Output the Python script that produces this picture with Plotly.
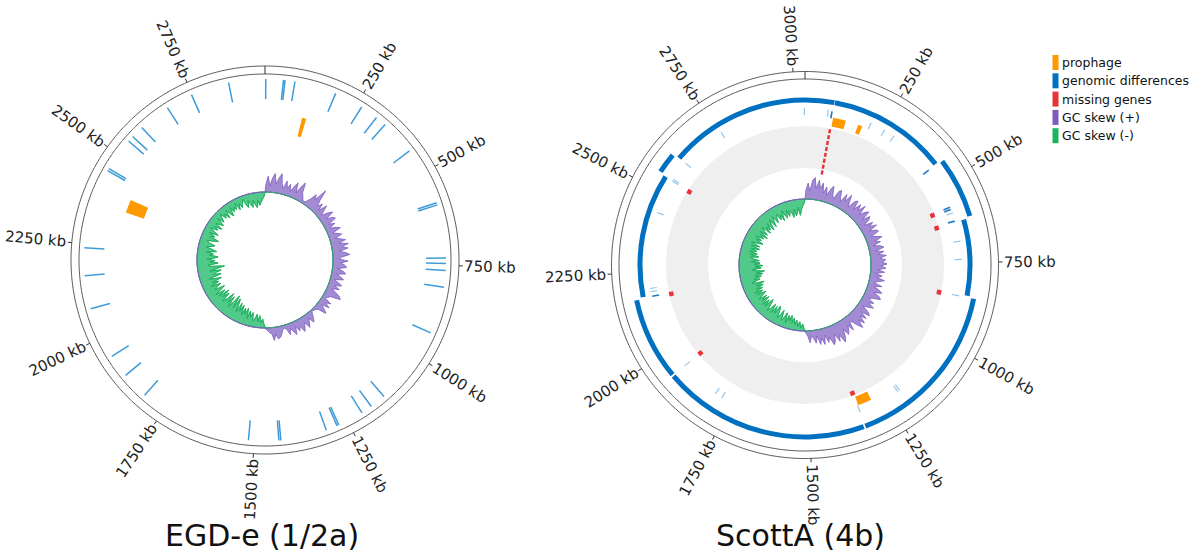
import numpy as np
import plotly.graph_objects as go

W, H = 1189, 551

# ---------------- data (positions in kb) ----------------
EGD_LENGTH_KB = 2944
SCOTT_LENGTH_KB = 3030

EGD_TICKS_KB = [250, 500, 750, 1000, 1250, 1500, 1750, 2000, 2250, 2500, 2750]
SCOTT_TICKS_KB = [250, 500, 750, 1000, 1250, 1500, 1750, 2000, 2250, 2500, 2750, 3000]

# EGD-e: genomic differences (thin lines) and prophages
EGD_DIFF_KB = [2, 48, 52, 78, 188, 264, 311, 340, 433, 585, 591, 731, 745, 763, 807,
               930, 1136, 1178, 1207, 1275, 1280, 1310, 1431, 1436, 1515, 1813, 1884,
               1945, 2080, 2167, 2240, 2450, 2456, 2544, 2560, 2593, 2677, 2748, 2849]
EGD_PROPHAGE_START = [120, 2362]
EGD_PROPHAGE_END = [133, 2405]

# ScottA: genomic-difference ring segments (level 0 = inner lane, 1 = outer lane)
SCOTT_RING_START = [0, 88, 445, 623, 853, 1347, 1939, 2178, 2549, 2612]
SCOTT_RING_END = [86.5, 440, 618, 848, 1342, 1934, 2173, 2545, 2607, 3030]
SCOTT_RING_LEVEL = [0, 0, 1, 0, 1, 1, 1, 0, 1, 0]
SCOTT_DIFF_LIGHT_KB = [3028, 72, 210, 257, 291, 2758, 2613, 2545, 2550, 2437, 2190, 2200,
                       1936, 1785, 1808, 1342, 1203, 1210, 853, 740, 684, 594]
SCOTT_DIFF_DARK_KB = [84, 2175, 620, 575, 582, 442]
SCOTT_MISSING_KB = [2544, 2170, 1935, 1344, 579, 626, 854]
SCOTT_MISSING_CLUSTER_KB = 88
SCOTT_PROPHAGE_START = [91, 175, 1295]
SCOTT_PROPHAGE_END = [133, 189, 1340]

# GC skew (per-mille, 240 windows around the chromosome)
EGD_SKEW = [
    8, 16, 6, 14, 19, 9, 15, 20, 10, 6,
    14, 7, 12, 5, 11, 16, 6, 13, 19, 9,
    6, 3, 2, 4, 8, 15, 10, 24, 13, 7,
    12, 5, 14, 8, 4, 11, 15, 6, 12, 14,
    5, 11, 4, 10, 14, 5, 9, 13, 6, 10,
    15, 8, 17, 10, 16, 7, 13, 17, 9, 6,
    15, 8, 12, 14, 5, 11, 14, 5, 10, 13,
    4, 9, 13, 6, 12, 5, 10, 15, 17, 7,
    5, 3, 11, 6, 12, 4, 9, 13, 5, 3,
    2, 1, 4, 8, 11, 5, 9, 13, 6, 10,
    14, 7, 11, 5, 13, 9, 5, 11, 4, 3,
    4, 8, 11, 12, 7, 13, 6, 5, 3, 1,
    -3, -9, -5, -12, -6, -13, -8, -6, -14, -9,
    -15, -7, -17, -10, -16, -8, -18, -11, -19, -9,
    -17, -22, -11, -24, -15, -9, -20, -12, -22, -14,
    -9, -19, -12, -21, -10, -18, -8, -15, -20, -10,
    -13, -18, -8, -17, -11, -21, -14, -9, -22, -15,
    -17, -23, -12, -20, -27, -14, -11, -21, -13, -18,
    -10, -17, -21, -12, -16, -9, -19, -14, -8, -13,
    -16, -9, -7, -14, -18, -8, -13, -6, -15, -10,
    -5, -12, -8, -15, -7, -11, -14, -5, -12, -8,
    -4, -11, -7, -13, -5, -10, -14, -5, -11, -7,
    -10, -4, -12, -6, -11, -7, -3, -10, -13, -6,
    -11, -14, -7, -12, -15, -8, -13, -10, -7, -4,
]
SCOTT_SKEW = [
    9, 16, 8, 19, 22, 11, 20, 12, 18, 8,
    15, 7, 14, 18, 9, 6, 15, 17, 10, 7,
    16, 9, 18, 11, 6, 15, 17, 8, 16, 10,
    18, 8, 14, 17, 7, 15, 12, 5, 14, 9,
    16, 7, 13, 15, 6, 11, 16, 8, 13, 5,
    12, 15, 6, 14, 8, 16, 9, 15, 11, 16,
    10, 15, 7, 14, 5, 12, 7, 15, 9, 5,
    14, 6, 12, 16, 8, 15, 17, 9, 6, 13,
    8, 15, 10, 5, 13, 16, 7, 15, 9, 17,
    11, 19, 14, 8, 6, 15, 8, 13, 16, 9,
    17, 21, 12, 18, 9, 16, 19, 10, 15, 7,
    16, 9, 15, 6, 13, 8, 5, 12, 5, 2,
    -2, -7, -3, -9, -4, -10, -6, -12, -7, -14,
    -8, -13, -5, -15, -9, -6, -16, -10, -7, -15,
    -18, -9, -16, -8, -17, -11, -7, -15, -19, -9,
    -16, -8, -18, -11, -17, -9, -14, -19, -10, -17,
    -9, -18, -12, -20, -13, -22, -14, -10, -19, -13,
    -21, -15, -23, -16, -25, -17, -13, -22, -16, -24,
    -15, -21, -12, -20, -14, -11, -19, -10, -17, -9,
    -16, -10, -18, -9, -17, -8, -14, -19, -11, -16,
    -9, -17, -12, -20, -10, -18, -13, -9, -19, -12,
    -17, -10, -19, -13, -9, -18, -12, -8, -16, -11,
    -8, -15, -10, -17, -7, -13, -16, -8, -15, -10,
    -12, -17, -9, -16, -13, -8, -16, -11, -7, -4,
]

TITLES = ["EGD-e (1/2a)", "ScottA (4b)"]
LEGEND_LABELS = ["prophage", "genomic differences", "missing genes", "GC skew (+)", "GC skew (-)"]

# ---------------- style ----------------
C_PROPHAGE = "#FF9900"
C_RING = "#0070C0"
C_THIN = "#3E9BD8"
C_THIN_LIGHT = "#93C4E8"
C_THIN_DARK = "#1F78C1"
C_MISSING = "#E8333A"
C_POS_FILL = "rgba(152,126,206,0.9)"
C_POS_LINE = "#7E5BBE"
C_NEG_FILL = "rgba(62,196,124,0.9)"
C_NEG_LINE = "#1FAE5D"
C_LEGEND = [C_PROPHAGE, C_RING, C_MISSING, "#7E5BBE", "#1DB35C"]
FONT = "DejaVu Sans"

PANELS = [
    dict(cx=265, cy=260, R=200, r_out=194, r_in=186, skew_base=68),
    dict(cx=805, cy=265, R=200, r_out=193.5, r_in=186, skew_base=66),
]


def kb2deg(kb, length):
    return np.asarray(kb, dtype=float) / length * 360.0


def domain(p):
    return dict(x=[(p["cx"] - p["R"]) / W, (p["cx"] + p["R"]) / W],
                y=[(H - p["cy"] - p["R"]) / H, (H - p["cy"] + p["R"]) / H])


def to_paper(p, r, theta_deg):
    t = np.radians(theta_deg)
    x = p["cx"] + r * np.sin(t)
    y = p["cy"] - r * np.cos(t)
    return x / W, (H - y) / H


CHAR_W = {c: 0.636 for c in "0123456789"}
CHAR_W.update({" ": 0.318, "k": 0.579, "b": 0.635})


def text_w(s, size):
    return sum(CHAR_W.get(c, 0.6) for c in s) * size


fig = go.Figure()
annotations = []


def radial_lines(kb_list, length, r0, r1, color, width, sub):
    th, rr = [], []
    for d in kb2deg(kb_list, length):
        th += [d, d, None]
        rr += [r0, r1, None]
    fig.add_trace(go.Scatterpolar(r=rr, theta=th, mode="lines", subplot=sub,
                                  line=dict(color=color, width=width),
                                  showlegend=False, hoverinfo="skip"))


def arcs(starts, ends, length, base, thick, color, sub):
    s = kb2deg(starts, length)
    e = kb2deg(ends, length)
    fig.add_trace(go.Barpolar(theta=(s + e) / 2, width=e - s, base=base,
                              r=[thick] * len(s), subplot=sub,
                              marker=dict(color=color, line=dict(width=0)),
                              showlegend=False, hoverinfo="skip"))


def circle(r, sub, color="#555555", width=1.0):
    th = np.linspace(0, 360, 721)
    fig.add_trace(go.Scatterpolar(r=np.full_like(th, r), theta=th, mode="lines",
                                  subplot=sub, line=dict(color=color, width=width),
                                  showlegend=False, hoverinfo="skip"))


def skew(values, p, sub):
    n = len(values)
    v = np.asarray(values, dtype=float)
    th = (np.arange(n) + 0.5) * 360.0 / n
    th = np.concatenate([[0], th, [360]])
    base = p["skew_base"]
    base_th = np.linspace(360, 0, 361)
    curves = {}
    for sign in (1, -1):
        vv = np.concatenate([[0], np.clip(sign * v, 0, None), [0]])
        curves[sign] = base + sign * vv
    # negative (green) area first, then positive (purple) area on top
    for sign, fillc, linec in [(-1, C_NEG_FILL, C_NEG_LINE), (1, C_POS_FILL, C_POS_LINE)]:
        rr = np.concatenate([curves[sign], np.full_like(base_th, base)])
        tt = np.concatenate([th, base_th])
        fig.add_trace(go.Scatterpolar(r=rr, theta=tt, mode="lines", fill="toself",
                                      fillcolor=fillc, subplot=sub,
                                      line=dict(color=linec, width=0.8),
                                      showlegend=False, hoverinfo="skip"))
    # green outline on top so its baseline shows inside the purple area
    fig.add_trace(go.Scatterpolar(r=curves[-1], theta=th, mode="lines", subplot=sub,
                                  line=dict(color=C_NEG_LINE, width=0.8),
                                  showlegend=False, hoverinfo="skip"))


def ticks_and_labels(p, ticks, length, sub):
    radial_lines([0], length, p["r_in"], p["r_out"], "#333333", 1, sub)
    radial_lines(ticks, length, p["r_out"], p["r_out"] + 4, "#333333", 1, sub)
    size = 15
    for kb, d in zip(ticks, kb2deg(ticks, length)):
        label = f"{kb} kb"
        rc = p["r_out"] + 5.5 + text_w(label, size) / 2
        x, y = to_paper(p, rc, d)
        ang = d - 90
        if ang > 90:
            ang -= 180
        if ang < -90:
            ang += 180
        annotations.append(dict(x=x, y=y, xref="paper", yref="paper", text=label,
                                textangle=ang, showarrow=False, xanchor="center",
                                yanchor="middle",
                                font=dict(family=FONT, size=size, color="#222222")))


# ---------------- EGD-e ----------------
pL = PANELS[0]
circle(pL["r_out"], "polar")
circle(pL["r_in"], "polar")
ticks_and_labels(pL, EGD_TICKS_KB, EGD_LENGTH_KB, "polar")
radial_lines(EGD_DIFF_KB, EGD_LENGTH_KB, 161, 181, C_THIN, 1.5, "polar")
arcs(EGD_PROPHAGE_START, EGD_PROPHAGE_END, EGD_LENGTH_KB, 128, 19, C_PROPHAGE, "polar")
skew(EGD_SKEW, pL, "polar")

# ---------------- ScottA ----------------
pR = PANELS[1]
circle(pR["r_out"], "polar2")
circle(pR["r_in"], "polar2")
ticks_and_labels(pR, SCOTT_TICKS_KB, SCOTT_LENGTH_KB, "polar2")
fig.add_trace(go.Barpolar(theta=[180], width=[360], base=97, r=[42], subplot="polar2",
                          marker=dict(color="#EFEFEF", line=dict(width=0)),
                          showlegend=False, hoverinfo="skip"))
lane_base = {0: 162.5, 1: 169.5}
for lvl in (0, 1):
    idx = [i for i, l in enumerate(SCOTT_RING_LEVEL) if l == lvl]
    arcs([SCOTT_RING_START[i] for i in idx], [SCOTT_RING_END[i] for i in idx],
         SCOTT_LENGTH_KB, lane_base[lvl], 5, C_RING, "polar2")
radial_lines(SCOTT_DIFF_LIGHT_KB, SCOTT_LENGTH_KB, 150, 157, C_THIN_LIGHT, 1.2, "polar2")
radial_lines(SCOTT_DIFF_DARK_KB, SCOTT_LENGTH_KB, 149, 156, C_THIN_DARK, 1.6, "polar2")
arcs(SCOTT_PROPHAGE_START, SCOTT_PROPHAGE_END, SCOTT_LENGTH_KB, 141, 9, C_PROPHAGE, "polar2")
ms = np.asarray(SCOTT_MISSING_KB, dtype=float)
arcs(ms - 8, ms + 8, SCOTT_LENGTH_KB, 134.5, 4.5, C_MISSING, "polar2")
d = kb2deg([SCOTT_MISSING_CLUSTER_KB], SCOTT_LENGTH_KB)[0]
fig.add_trace(go.Scatterpolar(r=[92, 138], theta=[d, d], mode="lines", subplot="polar2",
                              line=dict(color=C_MISSING, width=2.5, dash="4px,2px"),
                              showlegend=False, hoverinfo="skip"))
skew(SCOTT_SKEW, pR, "polar2")

# ---------------- titles ----------------
for p, t, xc in zip(PANELS, TITLES, [262, 800]):
    annotations.append(dict(x=xc / W, y=(H - 535) / H, xref="paper", yref="paper", text=t,
                            showarrow=False, xanchor="center", yanchor="middle",
                            font=dict(family=FONT, size=30, color="#111111")))

# ---------------- legend ----------------
shapes = []
for i, (lab, col) in enumerate(zip(LEGEND_LABELS, C_LEGEND)):
    yc = 62.5 + i * 18.3
    shapes.append(dict(type="rect", xref="paper", yref="paper",
                       x0=1052.5 / W, x1=1058.5 / W,
                       y0=(H - yc - 7.5) / H, y1=(H - yc + 7.5) / H,
                       fillcolor=col, line=dict(width=0)))
    annotations.append(dict(x=1060 / W, y=(H - yc) / H, xref="paper", yref="paper",
                            text=lab, showarrow=False, xanchor="left", yanchor="middle",
                            font=dict(family=FONT, size=12.5, color="#111111")))

polar_common = dict(
    bgcolor="rgba(0,0,0,0)",
    angularaxis=dict(direction="clockwise", rotation=90, visible=False,
                     showgrid=False, showline=False, showticklabels=False, ticks=""),
    radialaxis=dict(range=[0, 200], visible=False, showgrid=False,
                    showline=False, showticklabels=False, ticks=""),
)

fig.update_layout(
    width=W, height=H, autosize=False,
    margin=dict(l=0, r=0, t=0, b=0),
    paper_bgcolor="white", plot_bgcolor="white",
    showlegend=False,
    polar=dict(domain=domain(pL), **polar_common),
    polar2=dict(domain=domain(pR), **polar_common),
    annotations=annotations,
    shapes=shapes,
    barmode="overlay",
)

fig.write_html("out.html", config={"displayModeBar": False},
               post_script="document.body.style.margin='0px';document.body.style.overflow='hidden';")
